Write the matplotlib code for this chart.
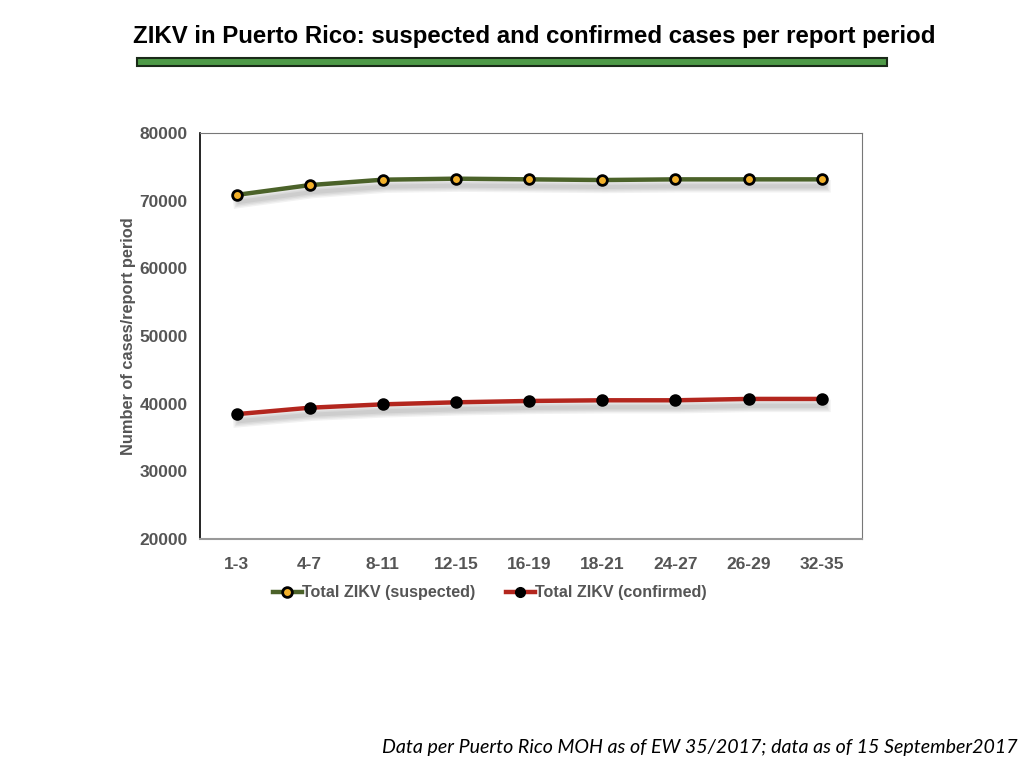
import numpy as np
import matplotlib.pyplot as plt
import matplotlib.patheffects as pe
from matplotlib.patches import Rectangle
from matplotlib.lines import Line2D

plt.rcParams['font.family'] = ['Liberation Sans', 'DejaVu Sans']

periods = ['1-3', '4-7', '8-11', '12-15', '16-19', '18-21', '24-27', '26-29', '32-35']
suspected = [70850, 72300, 73100, 73250, 73150, 73050, 73150, 73150, 73150]
confirmed = [38450, 39400, 39900, 40200, 40400, 40500, 40500, 40700, 40700]
yticks = [20000, 30000, 40000, 50000, 60000, 70000, 80000]

TICK_GREY = '#555555'
GREEN = '#4b6229'
RED = '#b3261e'

fig = plt.figure(figsize=(10.24, 7.68), dpi=100)

# title and green underline bar
fig.text(0.522, 0.952, 'ZIKV in Puerto Rico: suspected and confirmed cases per report period',
         ha='center', va='center', fontsize=17.3, fontweight='bold', color='black')
fig.patches.append(Rectangle((137 / 1024, 1 - 66 / 768), 750 / 1024, 8 / 768,
                             transform=fig.transFigure, facecolor='#4e9a47',
                             edgecolor='#1a2a18', linewidth=1.5))

ax = fig.add_axes([200 / 1024, 1 - 539 / 768, 662 / 1024, 406 / 768])
x = np.arange(len(periods))

# soft drop shadow under the lines (layered for a blurred look)
soft = [pe.SimpleLineShadow(offset=(2, -5), shadow_color='black', alpha=0.05, linewidth=w)
        for w in (9, 7, 5, 3)]

for vals, col, face in [(suspected, GREEN, '#f2b02a'), (confirmed, RED, 'black')]:
    ax.plot(x, vals, color=col, linewidth=3.2, path_effects=soft + [pe.Normal()], zorder=3)
    ax.plot(x, vals, linestyle='none', marker='o', markersize=7,
            markerfacecolor=face, markeredgecolor='black', markeredgewidth=2.0, zorder=4)

ax.set_xlim(-0.5, len(periods) - 0.45)
ax.set_ylim(20000, 80000)
ax.set_xticks(x)
ax.set_xticklabels(periods)
ax.set_yticks(yticks)
ax.tick_params(length=0, labelsize=12.5, labelcolor=TICK_GREY)
ax.tick_params(axis='x', pad=13)
ax.tick_params(axis='y', pad=9)
for lab in ax.get_xticklabels() + ax.get_yticklabels():
    lab.set_fontweight('bold')

for side in ['top', 'right']:
    ax.spines[side].set_color('#777777')
    ax.spines[side].set_linewidth(0.8)
ax.spines['left'].set_color('black')
ax.spines['left'].set_linewidth(1.2)
ax.spines['bottom'].set_color('#999999')
ax.spines['bottom'].set_linewidth(1.5)

ax.set_ylabel('Number of cases/report period', fontsize=11.8, fontweight='bold',
              color=TICK_GREY, labelpad=2)

handles = [Line2D([], [], color=GREEN, linewidth=3.2, marker='o', markersize=7,
                  markerfacecolor='#f2b02a', markeredgecolor='black', markeredgewidth=2.0),
           Line2D([], [], color=RED, linewidth=3.2, marker='o', markersize=7,
                  markerfacecolor='black', markeredgecolor='black')]
leg = fig.legend(handles, ['Total ZIKV (suspected)', 'Total ZIKV (confirmed)'],
                 loc='center', bbox_to_anchor=(0.478, 1 - 593 / 768), ncol=2,
                 frameon=False, fontsize=11.6, handlelength=1.8, handletextpad=0.0,
                 columnspacing=1.9)
for t in leg.get_texts():
    t.set_color(TICK_GREY)
    t.set_fontweight('bold')

fig.text(0.994, 1 - 748 / 768, 'Data per Puerto Rico MOH as of EW 35/2017; data as of 15 September2017',
         ha='right', va='center', fontsize=14.1, style='italic', family=['Lato', 'DejaVu Sans'])

fig.savefig('out.png', dpi=100, facecolor='white')
